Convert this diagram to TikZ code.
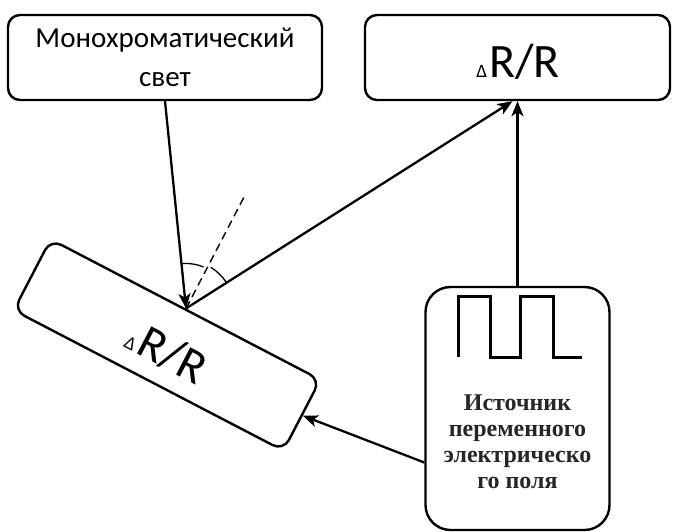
\documentclass[tikz,border=0pt]{standalone}
\usepackage{fontspec}
\setmainfont{Carlito}
\newfontfamily\srcfont{Liberation Serif}
\usetikzlibrary{arrows.meta}
\tikzset{
  box/.style={draw, line width=2.4pt, rounded corners=12pt, align=center, inner sep=0pt},
  ray/.style={line width=2.3pt, -{Stealth[length=15pt,width=12pt,inset=4pt]}},
  anglemark/.style={line width=1.3pt},
  normalline/.style={line width=1.4pt, dash pattern=on 8pt off 5pt},
  bigtxt/.style={font=\fontsize{48}{48}\selectfont, inner sep=0pt}
}
\newcommand{\dRR}{{\fontsize{19}{19}\selectfont Δ}\kern2pt R/R}
\begin{document}
\begin{tikzpicture}[x=1pt,y=1pt]
\useasboundingbox (0,0) rectangle (673,-532);
% light source
\node[box, minimum width=314pt, minimum height=85pt,
      font=\fontsize{29}{39}\selectfont] (mono) at (165,-57.5)
      {Монохроматический\\свет};
% detector
\node[box, minimum width=305pt, minimum height=85pt] (dr) at (517.5,-57.5) {};
\node[bigtxt] (drtext) at (518,-62) {\dRR};
% sample (tilted)
\node[box, rotate=-27.5, minimum width=304pt, minimum height=80pt] (tilt) at (167,-345) {};
\node[bigtxt, rotate=-27.5] (tilttext) at (167,-352) {\dRR};
% modulation source
\node[box, rounded corners=25pt, minimum width=184pt, minimum height=243pt] (src) at (517.5,-408.5) {};
\node[font=\srcfont\bfseries\fontsize{24}{26}\selectfont, align=center, text=black!85] (srctext) at (517.5,-442)
  {Источник\\переменного\\электрическо\\го поля};
% square wave
\draw[line width=3pt] (458,-357) -- (458,-297) -- (490,-297) -- (490,-357)
  -- (520,-357) -- (520,-297) -- (553,-297) -- (553,-357) -- (582,-357);
% rays
\draw[ray] (mono.south) -- (tilt.north);
\draw[ray] (tilt.north) -- ([xshift=-5pt]dr.south);
\draw[ray] (src.north) -- (dr.south);
\coordinate (srcin) at ([yshift=-54pt]src.west);
\draw[ray] (srcin) -- (tilt.east);
% surface normal and angle marks
\path (tilt.north) ++(62.5:125) coordinate (ntop);
\draw[normalline] (tilt.north) -- (ntop);
\draw[anglemark] ([shift={(95:45)}]tilt.north) arc[start angle=95, end angle=67, radius=45];
\draw[anglemark] ([shift={(59:48)}]tilt.north) arc[start angle=59, end angle=33, radius=48];
\end{tikzpicture}
\end{document}
